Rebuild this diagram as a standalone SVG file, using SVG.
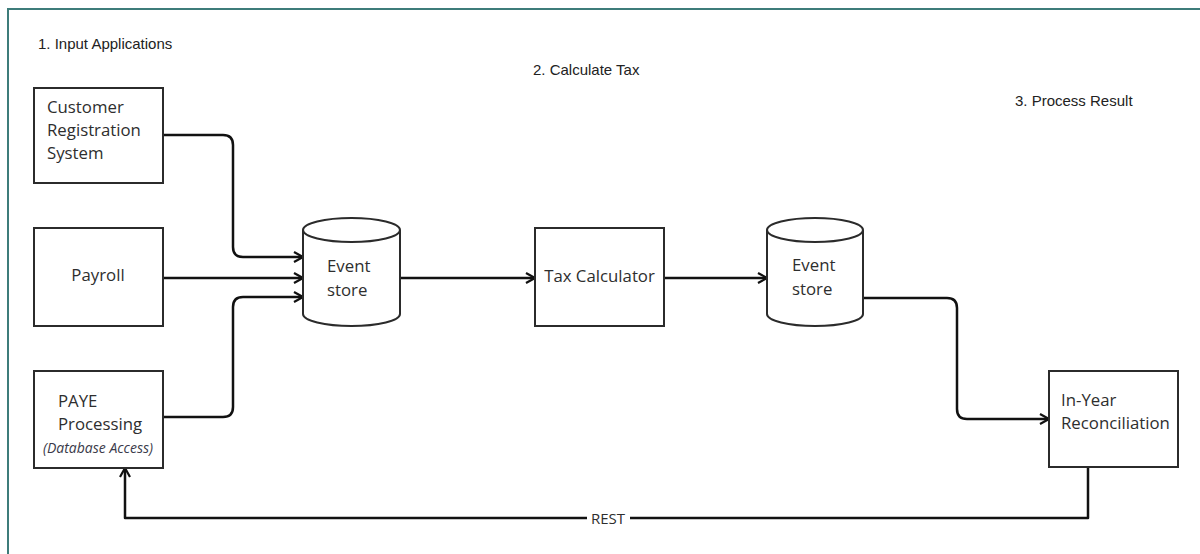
<svg xmlns="http://www.w3.org/2000/svg" width="1200" height="554" viewBox="0 0 1200 554">
  <defs>
    <style>
      .frame { fill: none; stroke: #3d7c7a; stroke-width: 2; }
      .box { fill: #ffffff; stroke: #2b2b2b; stroke-width: 2; }
      .db { fill: #ffffff; stroke: #2b2b2b; stroke-width: 2; }
      .link { fill: none; stroke: #111111; stroke-width: 2.5; stroke-linejoin: round; }
      .hdr { font-family: "Liberation Sans", Arial, sans-serif; font-size: 15px; fill: #222222; }
      .lbl { font-family: "Open Sans", "Liberation Sans", sans-serif; font-size: 16.8px; fill: #2e2e2e; }
      .note { font-family: "Open Sans", "Liberation Sans", sans-serif; font-size: 14px; font-style: italic; fill: #3a3a4a; }
      .tag { font-family: "Open Sans", "Liberation Sans", sans-serif; font-size: 15px; fill: #2e2e2e; }
    </style>
    <marker id="arrow" viewBox="0 0 12 12" refX="11" refY="6" markerWidth="12" markerHeight="12" markerUnits="userSpaceOnUse" orient="auto">
      <path d="M2,1 L11,6 L2,11" fill="none" stroke="#111111" stroke-width="2.2"/>
    </marker>
  </defs>

  <rect width="1200" height="554" fill="#ffffff"/>
  <!-- page frame: top and left edges only -->
  <path class="frame" d="M8,554 V9 H1200"/>

  <!-- stage headings -->
  <text class="hdr" x="38" y="49">1. Input Applications</text>
  <text class="hdr" x="533" y="75">2. Calculate Tax</text>
  <text class="hdr" x="1015" y="106">3. Process Result</text>

  <!-- connectors -->
  <g id="connectors">
    <path class="link" d="M163,135 H223 Q233,135 233,145 V247 Q233,257 243,257 H303" marker-end="url(#arrow)"/>
    <path class="link" d="M163,278 H303" marker-end="url(#arrow)"/>
    <path class="link" d="M163,417 H223 Q233,417 233,407 V307 Q233,297 243,297 H303" marker-end="url(#arrow)"/>
    <path class="link" d="M400,278 H535" marker-end="url(#arrow)"/>
    <path class="link" d="M664,278 H767" marker-end="url(#arrow)"/>
    <path class="link" d="M863,298 H947 Q957,298 957,308 V409 Q957,419 967,419 H1049" marker-end="url(#arrow)"/>
    <path class="link" d="M1088,467 V518 H125 V468" marker-end="url(#arrow)"/>
    <rect x="587" y="508" width="43" height="20" fill="#ffffff"/>
    <text class="tag" x="608" y="524" text-anchor="middle">REST</text>
  </g>

  <g id="customer-registration">
    <rect class="box" x="34" y="88" width="129" height="95"/>
    <text class="lbl" x="47" y="113">Customer</text>
    <text class="lbl" x="47" y="136">Registration</text>
    <text class="lbl" x="47" y="159">System</text>
  </g>

  <g id="payroll">
    <rect class="box" x="34" y="228" width="129" height="98"/>
    <text class="lbl" x="98" y="281" text-anchor="middle">Payroll</text>
  </g>

  <g id="paye-processing">
    <rect class="box" x="34" y="371" width="129" height="97"/>
    <text class="lbl" x="58" y="407">PAYE</text>
    <text class="lbl" x="58" y="430">Processing</text>
    <text class="note" x="98" y="453" text-anchor="middle">(Database Access)</text>
  </g>

  <g id="event-store-1">
    <path class="db" d="M303,230 V314 A48.5,12 0 0 0 400,314 V230 A48.5,12 0 0 0 303,230 Z"/>
    <path class="db" d="M303,230 A48.5,12 0 0 0 400,230" fill="none"/>
    <text class="lbl" x="327" y="272">Event</text>
    <text class="lbl" x="327" y="296">store</text>
  </g>

  <g id="tax-calculator">
    <rect class="box" x="535" y="228" width="129" height="98"/>
    <text class="lbl" x="599.5" y="282" text-anchor="middle">Tax Calculator</text>
  </g>

  <g id="event-store-2">
    <path class="db" d="M767,230 V314 A48,12 0 0 0 863,314 V230 A48,12 0 0 0 767,230 Z"/>
    <path class="db" d="M767,230 A48,12 0 0 0 863,230" fill="none"/>
    <text class="lbl" x="792" y="271">Event</text>
    <text class="lbl" x="792" y="295">store</text>
  </g>

  <g id="in-year-reconciliation">
    <rect class="box" x="1049" y="371" width="129" height="96"/>
    <text class="lbl" x="1061" y="406">In-Year</text>
    <text class="lbl" x="1061" y="429">Reconciliation</text>
  </g>
</svg>
